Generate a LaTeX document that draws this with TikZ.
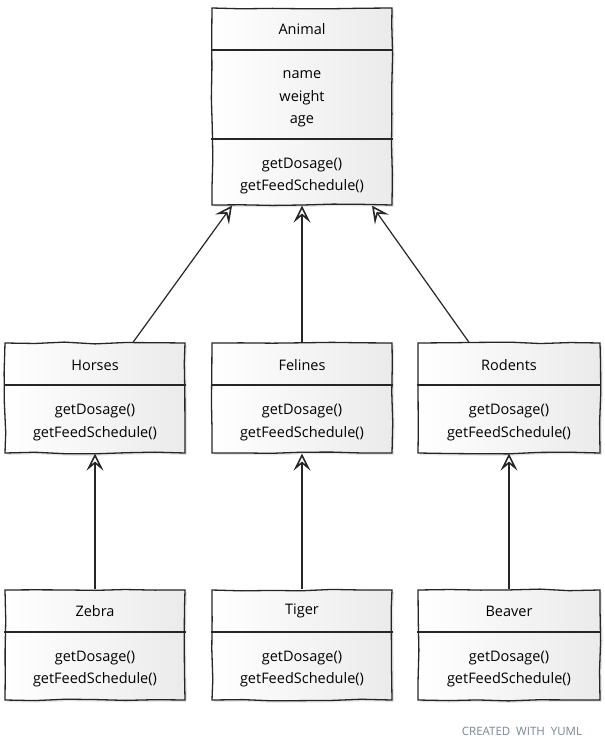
\documentclass[tikz,border=0pt]{standalone}
\usepackage{fontspec}
\setmainfont{Open Sans}
\usetikzlibrary{arrows.meta,shadows,decorations.pathmorphing}
\definecolor{yumlgray}{HTML}{7A8590}
\pgfmathsetseed{7}

\begin{document}
\begin{tikzpicture}[
    x=1pt, y=-1pt,
    classbox/.style={draw=black!85, line width=1.3pt, minimum width=180pt, left color=white, right color=gray!16,
        drop shadow={opacity=0.2, shadow xshift=2pt, shadow yshift=-2pt},
        decorate, decoration={random steps, segment length=30pt, amplitude=0.9pt}},
    label/.style={font=\fontsize{14.5}{22.5}\selectfont, align=center, inner sep=0pt},
    divider/.style={line width=1.3pt, black!85},
    inherit/.style={-{Stealth[open, length=17pt, width=17pt, inset=7pt, line width=1.6pt]}, line width=1.2pt, black!85}
]
\useasboundingbox (0,0) rectangle (605,750);

% Base class
\node[classbox, minimum height=197pt] (animal) at (302,106.5) {};
\node[label] (animaltitle) at (302,29) {Animal};
\node[label] (animalattrs) at (302,99) {name\\weight\\age};
\node[label] (animalops) at (302,176) {getDosage()\\getFeedSchedule()};
\draw[divider] (animal.west |- 0,50) -- (animal.east |- 0,50);
\draw[divider] (animal.west |- 0,139) -- (animal.east |- 0,139);

% Middle row
\node[classbox, minimum height=110pt] (horses) at (95,398) {};
\node[classbox, minimum height=110pt] (felines) at (302,398) {};
\node[classbox, minimum height=110pt, minimum width=182pt] (rodents) at (509,398) {};
\node[label] (horsestitle) at (95,365) {Horses};
\node[label] (felinestitle) at (302,365) {Felines};
\node[label] (rodentstitle) at (509,365) {Rodents};
\node[label] (horsesops) at (95,422.5) {getDosage()\\getFeedSchedule()};
\node[label] (felinesops) at (302,422.5) {getDosage()\\getFeedSchedule()};
\node[label] (rodentsops) at (509,422.5) {getDosage()\\getFeedSchedule()};
\draw[divider] (horses.west |- 0,385) -- (horses.east |- 0,385);
\draw[divider] (felines.west |- 0,385) -- (felines.east |- 0,385);
\draw[divider] (rodents.west |- 0,385) -- (rodents.east |- 0,385);

% Bottom row
\node[classbox, minimum height=110pt] (zebra) at (95,645) {};
\node[classbox, minimum height=110pt] (tiger) at (302,645) {};
\node[classbox, minimum height=110pt, minimum width=182pt] (beaver) at (509,645) {};
\node[label] (zebratitle) at (95,611) {Zebra};
\node[label] (tigertitle) at (302,611) {Tiger};
\node[label] (beavertitle) at (509,611) {Beaver};
\node[label] (zebraops) at (95,669) {getDosage()\\getFeedSchedule()};
\node[label] (tigerops) at (302,669) {getDosage()\\getFeedSchedule()};
\node[label] (beaverops) at (509,669) {getDosage()\\getFeedSchedule()};
\draw[divider] (zebra.west |- 0,632) -- (zebra.east |- 0,632);
\draw[divider] (tiger.west |- 0,632) -- (tiger.east |- 0,632);
\draw[divider] (beaver.west |- 0,632) -- (beaver.east |- 0,632);

% Inheritance
\draw[inherit] ([xshift=38pt]horses.north) -- ([xshift=-70pt]animal.south);
\draw[inherit] (felines.north) -- (animal.south);
\draw[inherit] ([xshift=-40pt]rodents.north) -- ([xshift=70pt]animal.south);
\draw[inherit] (zebra.north) -- (horses.south);
\draw[inherit] (tiger.north) -- (felines.south);
\draw[inherit] (beaver.north) -- (rodents.south);

% Footer
\node[font=\fontsize{11.5}{13}\selectfont, text=yumlgray] (credit) at (522,731) {CREATED\ \ WITH\ \ YUML};
\end{tikzpicture}
\end{document}
